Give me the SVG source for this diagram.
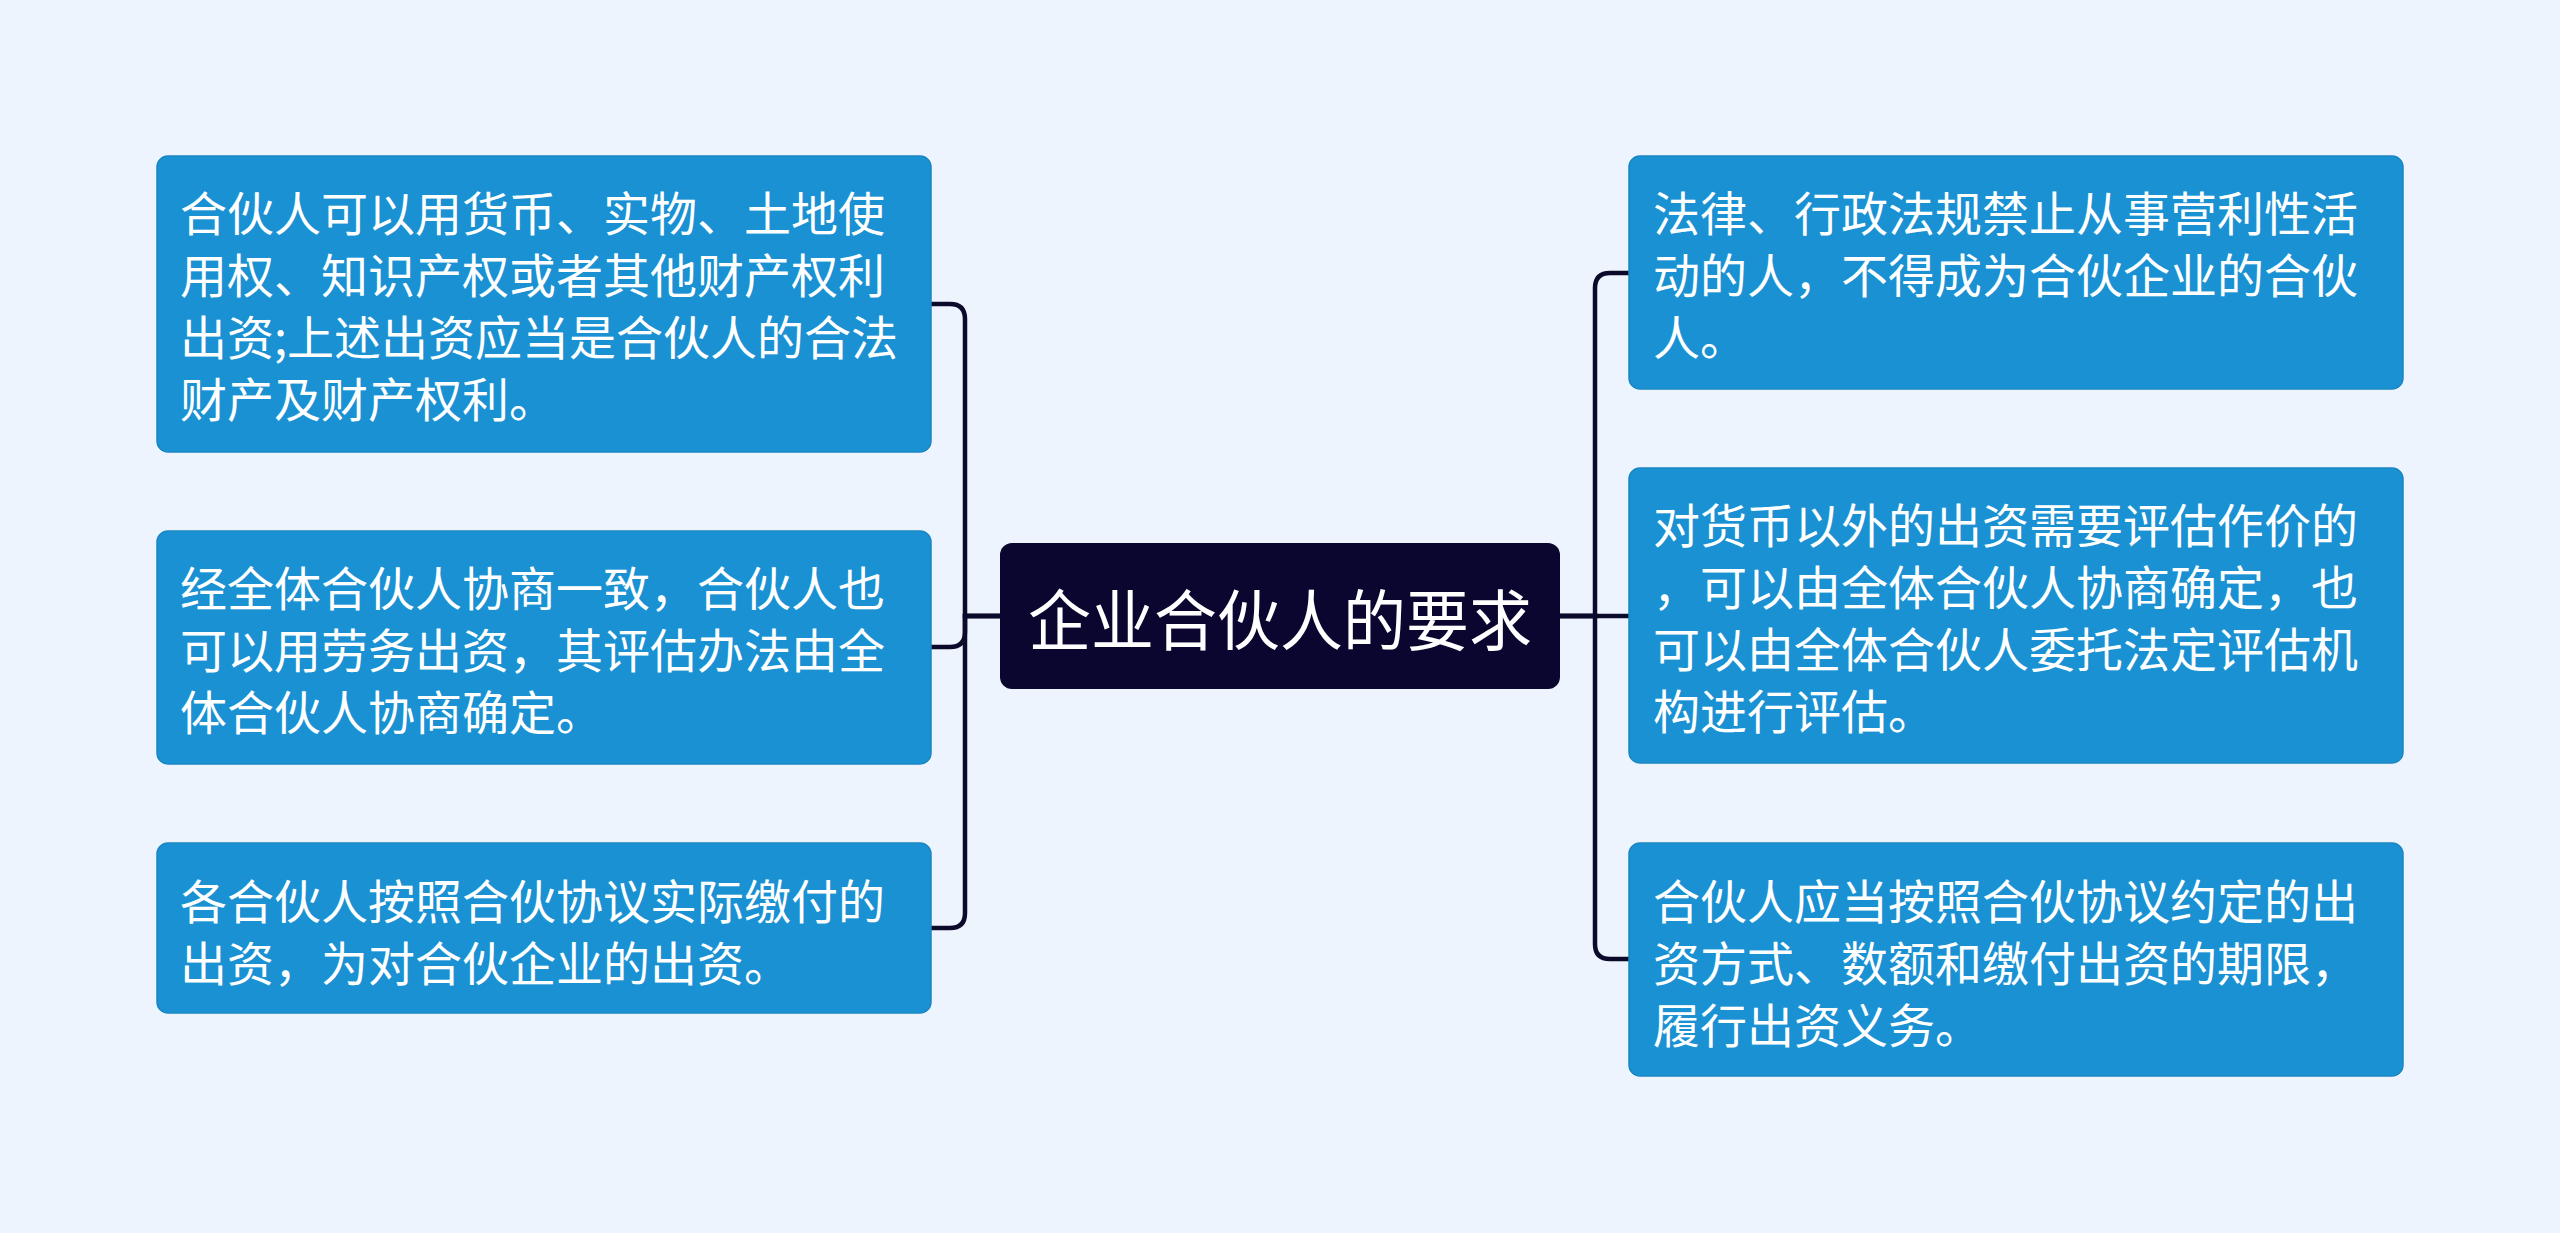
<svg xmlns="http://www.w3.org/2000/svg" width="2560" height="1233" viewBox="0 0 2560 1233">
<style>
.bg{fill:#eef4fd}
.box{fill:#1991d2;stroke:#1a86c4;stroke-width:1.5}
.root{fill:#0b0630}
.t{font-family:"Noto Sans CJK SC","Noto Sans",sans-serif;font-size:47px;fill:#ffffff;dominant-baseline:central}
.rt{font-family:"Noto Sans CJK SC","Noto Sans",sans-serif;font-size:66px;fill:#ffffff;dominant-baseline:central;text-anchor:middle}
.c{fill:none;stroke:#0b0a2a;stroke-width:4.5}
</style>
<rect class="bg" x="0" y="0" width="2560" height="1233"/>
<g id="connectors">
<path class="c" d="M1000,616 H965 V319 Q965,304 950,304 H931"/>
<path class="c" d="M1000,616 H965 V632 Q965,647 950,647 H931"/>
<path class="c" d="M1000,616 H965 V913 Q965,928 950,928 H931"/>
<path class="c" d="M1560,616 H1595 V288 Q1595,273 1610,273 H1629"/>
<path class="c" d="M1560,616 H1629"/>
<path class="c" d="M1560,616 H1595 V944 Q1595,959 1610,959 H1629"/>
</g>
<g id="root">
<rect class="root" x="1000" y="543" width="560" height="146" rx="12"/>
<text class="rt" x="1280" y="616" textLength="504" lengthAdjust="spacingAndGlyphs">企业合伙人的要求</text>
</g>
<g id="node-l1">
<rect class="box" x="157" y="156" width="774" height="296" rx="11"/>
<text class="t" x="180" y="210">合伙人可以用货币、实物、土地使</text>
<text class="t" x="180" y="272">用权、知识产权或者其他财产权利</text>
<text class="t" x="180" y="334">出资;上述出资应当是合伙人的合法</text>
<text class="t" x="180" y="396">财产及财产权利。</text>
</g>
<g id="node-l2">
<rect class="box" x="157" y="531" width="774" height="233" rx="11"/>
<text class="t" x="180" y="585">经全体合伙人协商一致，合伙人也</text>
<text class="t" x="180" y="647">可以用劳务出资，其评估办法由全</text>
<text class="t" x="180" y="709">体合伙人协商确定。</text>
</g>
<g id="node-l3">
<rect class="box" x="157" y="843" width="774" height="170" rx="11"/>
<text class="t" x="180" y="898">各合伙人按照合伙协议实际缴付的</text>
<text class="t" x="180" y="960">出资，为对合伙企业的出资。</text>
</g>
<g id="node-r1">
<rect class="box" x="1629" y="156" width="774" height="233" rx="11"/>
<text class="t" x="1653" y="210">法律、行政法规禁止从事营利性活</text>
<text class="t" x="1653" y="272">动的人，不得成为合伙企业的合伙</text>
<text class="t" x="1653" y="334">人。</text>
</g>
<g id="node-r2">
<rect class="box" x="1629" y="468" width="774" height="295" rx="11"/>
<text class="t" x="1653" y="522">对货币以外的出资需要评估作价的</text>
<text class="t" x="1653" y="584">，可以由全体合伙人协商确定，也</text>
<text class="t" x="1653" y="646">可以由全体合伙人委托法定评估机</text>
<text class="t" x="1653" y="708">构进行评估。</text>
</g>
<g id="node-r3">
<rect class="box" x="1629" y="843" width="774" height="233" rx="11"/>
<text class="t" x="1653" y="898">合伙人应当按照合伙协议约定的出</text>
<text class="t" x="1653" y="960">资方式、数额和缴付出资的期限，</text>
<text class="t" x="1653" y="1022">履行出资义务。</text>
</g>
</svg>
